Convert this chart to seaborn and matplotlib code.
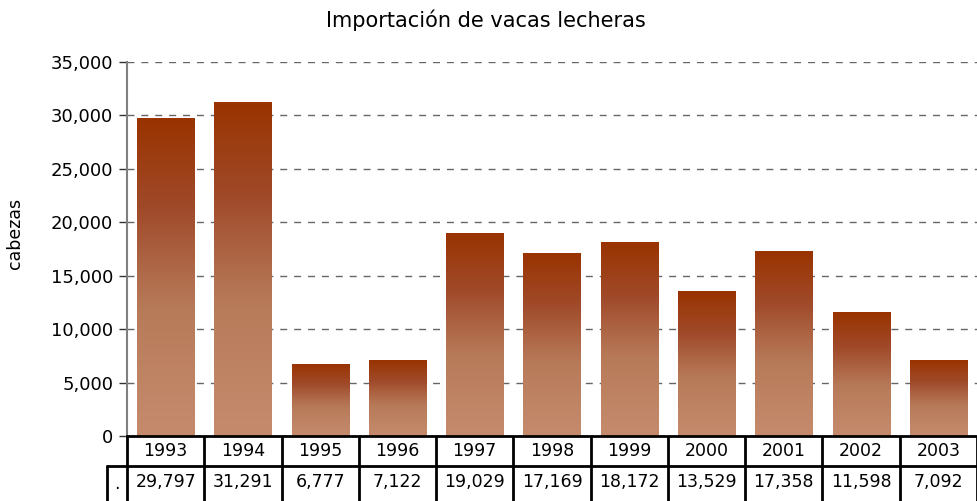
import numpy as np
import pandas as pd
import matplotlib
matplotlib.use("Agg")
import matplotlib.pyplot as plt
import matplotlib.transforms as mtransforms
from matplotlib.colors import LinearSegmentedColormap
import seaborn as sns

# data
years = ["1993", "1994", "1995", "1996", "1997", "1998", "1999", "2000", "2001", "2002", "2003"]
heads = [29797, 31291, 6777, 7122, 19029, 17169, 18172, 13529, 17358, 11598, 7092]
title = "Importación de vacas lecheras"
ylabel = "cabezas"
yticks = [0, 5000, 10000, 15000, 20000, 25000, 30000, 35000]

df = pd.DataFrame({"year": years, "heads": heads})

sns.set_style("white")
plt.rcParams["font.family"] = ["DejaVu Sans"]
plt.rcParams["text.color"] = "black"
plt.rcParams["ytick.labelcolor"] = "black"

fig = plt.figure(figsize=(9.77, 5.01), dpi=100)
ax = fig.add_axes([127 / 977, 65 / 501, 850 / 977, 374 / 501])

sns.barplot(data=df, x="year", y="heads", ax=ax, width=0.74, color="#993300", zorder=2)

# gradient fill per bar (dark top, light bottom)
cmap = LinearSegmentedColormap.from_list("rust", ["#C48A6B", "#B77A59", "#A04A2A", "#993300"])
grad = np.linspace(0, 1, 256).reshape(-1, 1) ** 1.2
for p in ax.patches:
    x0, y0 = p.get_x(), p.get_y()
    w, h = p.get_width(), p.get_height()
    im = ax.imshow(grad, cmap=cmap, aspect="auto", origin="lower",
                   extent=[x0, x0 + w, y0, y0 + h], zorder=2)
    im.set_clip_path(p)
    p.set_facecolor("none")
    p.set_edgecolor("none")

ax.set_xlim(-0.5, len(years) - 0.5)
ax.set_ylim(0, 35000)
ax.set_yticks(yticks)
ax.set_yticklabels([f"{v:,}" for v in yticks], fontsize=13, color="black")
ax.yaxis.grid(True, linestyle=(0, (5, 5)), color="#666666", linewidth=1, zorder=0)
ax.set_axisbelow(True)
ax.tick_params(axis="y", length=6, width=1, color="#333333", pad=4, left=True)
ax.tick_params(axis="x", bottom=False, labelbottom=False)
ax.set_xlabel("")
ax.set_ylabel("")

for s in ["top", "right"]:
    ax.spines[s].set_visible(False)
ax.spines["left"].set_color("#808080")
ax.spines["left"].set_linewidth(1.5)
ax.spines["bottom"].set_color("black")
ax.spines["bottom"].set_linewidth(2)

fig.text(486 / 977, 1 - 20 / 501, title, ha="center", va="center", fontsize=15, color="black")
fig.text(15 / 977, 1 - 233 / 501, ylabel, ha="center", va="center", rotation=90,
         fontsize=12.5, color="black")

# data table under the axis
trans = mtransforms.blended_transform_factory(ax.transData, ax.transAxes)
row_h = 30 / 374
row2_h = 36 / 374
y_top = 0
y_mid = -row_h
y_bot = -row_h - row2_h
n = len(years)
lw = 2
for i in range(n + 1):
    ax.plot([i - 0.5, i - 0.5], [y_top, y_bot], transform=trans, color="black",
            lw=lw, clip_on=False, solid_capstyle="butt")
ax.plot([-0.5, n - 0.5], [y_mid, y_mid], transform=trans, color="black", lw=lw, clip_on=False)
# extra first cell in the value row
x_dot = -0.5 - 20 / (850 / n)
ax.plot([x_dot, x_dot], [y_mid, y_bot], transform=trans, color="black", lw=lw, clip_on=False)
ax.plot([x_dot, -0.5], [y_mid, y_mid], transform=trans, color="black", lw=lw, clip_on=False)
ax.text((x_dot - 0.5) / 2, (y_mid + y_bot) / 2, ".", transform=trans,
        ha="center", va="center", fontsize=12.5, color="black")

for i, (yr, v) in enumerate(zip(years, heads)):
    ax.text(i, (y_top + y_mid) / 2, yr, transform=trans, ha="center", va="center",
            fontsize=12.5, color="black")
    ax.text(i, (y_mid + y_bot) / 2 + 0.005, f"{v:,}", transform=trans, ha="center",
            va="center", fontsize=12.5, color="black")

fig.savefig("out.png", dpi=100)
